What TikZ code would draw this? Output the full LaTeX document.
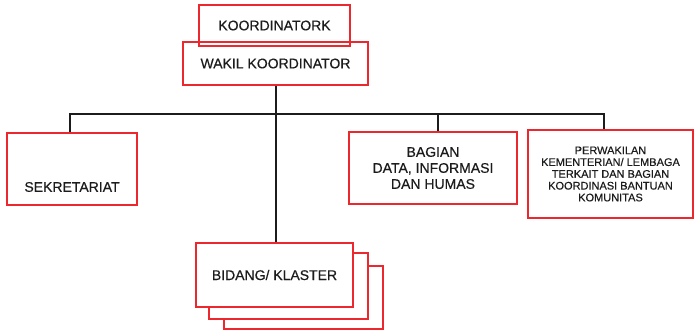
\documentclass[tikz,border=0pt]{standalone}
\usepackage{fontspec}
\setmainfont[FakeBold=0.4]{Liberation Sans}
\definecolor{boxred}{RGB}{236,40,46}
\definecolor{ink}{RGB}{28,28,28}
\begin{document}
\begin{tikzpicture}[x=1pt,y=-1pt,
  box/.style={draw=boxred, line width=1.5pt, rectangle, inner sep=0pt,
    text=ink, align=center, font=\fontsize{14}{16}\selectfont},
  filled/.style={box, fill=white},
  smalltext/.style={font=\fontsize{11}{11.8}\selectfont},
  label text/.style={text=ink, inner sep=0pt, font=\fontsize{14}{16}\selectfont},
  link/.style={draw=ink, line width=1.4pt}]
\useasboundingbox (0,0) rectangle (694,331);

% junction of the tree
\coordinate (hub) at (276,114);

% top of the hierarchy
\node[box, minimum width=151pt, minimum height=41pt] (koord) at (274.5,25.5) {KOORDINATORK};
\node[box, minimum width=185pt, minimum height=43pt] (wakil) at (275.5,63.5) {WAKIL KOORDINATOR};

% second level units
\node[filled, minimum width=130pt, minimum height=72pt] (sek) at (72,169) {};
\node[label text] (sektext) at (72,187) {SEKRETARIAT};
\node[filled, minimum width=168pt, minimum height=72pt] (bag) at (433,168)
  {BAGIAN\\DATA, INFORMASI\\DAN HUMAS};
\node[filled, smalltext, minimum width=165pt, minimum height=88pt] (perw) at (610.5,174)
  {PERWAKILAN\\KEMENTERIAN/ LEMBAGA\\TERKAIT DAN BAGIAN\\KOORDINASI BANTUAN\\KOMUNITAS};

% connectors
\draw[link] (wakil.south -| hub) -- (hub);
\draw[link] ([xshift=-2pt]sek.north) |- (hub) -| ([xshift=-6.5pt]perw.north);
\draw[link] ([xshift=5pt]bag.north) -- ([xshift=5pt]bag.north |- hub);
\draw[link] (hub) -- (276,243);

% stacked clusters
\node[filled, minimum width=159pt, minimum height=63pt] (b3) at (303.5,297.5) {};
\node[filled, minimum width=159pt, minimum height=66pt] (b2) at (288.5,286) {};
\node[filled, minimum width=157pt, minimum height=64pt] (b1) at (274.5,275) {BIDANG/ KLASTER};

\end{tikzpicture}
\end{document}
